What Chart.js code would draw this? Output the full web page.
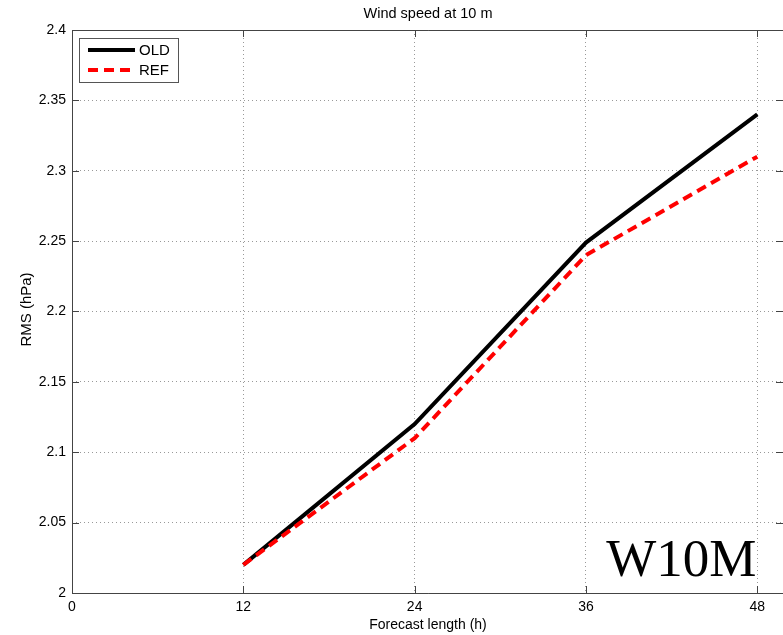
<!DOCTYPE html>
<html>
<head>
<meta charset="utf-8">
<script src="https://cdn.jsdelivr.net/npm/chart.js@4/dist/chart.umd.min.js"></script>
<style>
html,body{margin:0;padding:0;background:#fff;overflow:hidden;}
#wrap{width:783px;height:635px;position:relative;}
</style>
</head>
<body>
<div id="wrap"><canvas id="c" width="783" height="635"></canvas></div>
<script>
const forecastHours = [12, 24, 36, 48];
const oldValues = [2.02, 2.12, 2.249, 2.34];
const refValues = [2.02, 2.11, 2.24, 2.31];
const xTicks = [0, 12, 24, 36, 48];
const yTicks = [2, 2.05, 2.1, 2.15, 2.2, 2.25, 2.3, 2.35, 2.4];
const yTickLabels = ["2", "2.05", "2.1", "2.15", "2.2", "2.25", "2.3", "2.35", "2.4"];
const titleText = "Wind speed at 10 m";
const xTitle = "Forecast length (h)";
const yTitle = "RMS (hPa)";
const tagText = "W10M";

const SANS = "'Liberation Sans', Arial, Helvetica, sans-serif";

const decor = {
  id: 'decor',
  afterDraw(chart) {
    const ctx = chart.ctx;
    const a = chart.chartArea;
    const xs = chart.scales.x, ys = chart.scales.y;
    ctx.save();
    // box
    ctx.strokeStyle = '#444';
    ctx.lineWidth = 1;
    ctx.setLineDash([]);
    ctx.beginPath();
    ctx.moveTo(Math.round(a.left) + 0.5, Math.round(a.bottom) + 0.5);
    ctx.lineTo(Math.round(a.left) + 0.5, Math.round(a.top) + 0.5);
    ctx.lineTo(a.right + 5, Math.round(a.top) + 0.5);
    ctx.moveTo(Math.round(a.left) + 0.5, Math.round(a.bottom) + 0.5);
    ctx.lineTo(a.right + 5, Math.round(a.bottom) + 0.5);
    ctx.stroke();
    // inner ticks
    ctx.beginPath();
    xTicks.forEach(v => {
      const px = Math.round(xs.getPixelForValue(v)) + 0.5;
      ctx.moveTo(px, a.bottom); ctx.lineTo(px, a.bottom - 7);
      ctx.moveTo(px, a.top); ctx.lineTo(px, a.top + 7);
    });
    yTicks.forEach(v => {
      const py = Math.round(ys.getPixelForValue(v)) + 0.5;
      ctx.moveTo(a.left, py); ctx.lineTo(a.left + 7, py);
      ctx.moveTo(a.right, py); ctx.lineTo(a.right - 7, py);
    });
    ctx.stroke();

    // texts
    ctx.fillStyle = '#000';
    ctx.textAlign = 'center';
    ctx.textBaseline = 'middle';
    const cx = (a.left + a.right) / 2 + 0.5;
    ctx.font = '14.5px ' + SANS;
    ctx.fillText(titleText, cx, 14);
    ctx.font = '14px ' + SANS;
    ctx.fillText(xTitle, cx, 625);
    ctx.save();
    ctx.translate(27, (a.top + a.bottom) / 2 - 2);
    ctx.rotate(-Math.PI / 2);
    ctx.font = '15px ' + SANS;
    ctx.fillText(yTitle, 0, 0);
    ctx.restore();

    // legend
    const lx = 79, ly = 38, lw = 99, lh = 44;
    ctx.fillStyle = '#fff';
    ctx.fillRect(lx, ly, lw, lh);
    ctx.strokeStyle = '#555';
    ctx.lineWidth = 1;
    ctx.strokeRect(lx + 0.5, ly + 0.5, lw, lh);
    chart.data.datasets.forEach((ds, i) => {
      const y = ly + 12 + i * 20;
      ctx.strokeStyle = ds.borderColor;
      ctx.lineWidth = ds.borderWidth;
      ctx.setLineDash(ds.borderDash || []);
      ctx.beginPath();
      ctx.moveTo(lx + 9, y); ctx.lineTo(lx + 56, y);
      ctx.stroke();
      ctx.setLineDash([]);
      ctx.fillStyle = '#000';
      ctx.textAlign = 'left';
      ctx.font = '15px ' + SANS;
      ctx.fillText(ds.label, lx + 60, y + 1);
    });

    // tag
    ctx.fillStyle = '#000';
    ctx.textAlign = 'right';
    ctx.textBaseline = 'alphabetic';
    ctx.font = "53px 'Liberation Serif', 'Times New Roman', serif";
    ctx.fillText(tagText, xs.getPixelForValue(48) - 1, 576);
    ctx.restore();
  }
};

new Chart(document.getElementById('c'), {
  type: 'line',
  data: {
    datasets: [
      {
        label: 'OLD',
        data: forecastHours.map((h, i) => ({x: h, y: oldValues[i]})),
        borderColor: '#000000',
        borderWidth: 4,
        pointRadius: 0,
        order: 1,
        borderJoinStyle: 'miter'
      },
      {
        label: 'REF',
        data: forecastHours.map((h, i) => ({x: h, y: refValues[i]})),
        borderColor: '#ff0000',
        borderWidth: 4,
        borderDash: [10, 6],
        pointRadius: 0,
        order: 0
      }
    ]
  },
  options: {
    responsive: false,
    animation: false,
    layout: {padding: {top: 30, left: 0, right: 0, bottom: 0}},
    plugins: {legend: {display: false}, title: {display: false}, tooltip: {enabled: false}},
    scales: {
      x: {
        type: 'linear',
        min: 0,
        max: 49.8,
        afterBuildTicks: s => { s.ticks = xTicks.map(v => ({value: v})); },
        afterFit: s => { s.height = 42; },
        grid: {color: '#999', lineWidth: 1, drawTicks: false},
        border: {display: false, dash: [1, 3]},
        ticks: {padding: 6, color: '#000', font: {family: SANS, size: 14}, maxRotation: 0}
      },
      y: {
        type: 'linear',
        min: 2,
        max: 2.4,
        afterBuildTicks: s => { s.ticks = yTicks.map(v => ({value: v})); },
        afterFit: s => { s.width = 72; },
        grid: {color: '#999', lineWidth: 1, drawTicks: false},
        border: {display: false, dash: [1, 3]},
        ticks: {padding: 6, color: '#000', font: {family: SANS, size: 14},
          callback: (v, i) => yTickLabels[i]}
      }
    }
  },
  plugins: [decor]
});
</script>
</body>
</html>
